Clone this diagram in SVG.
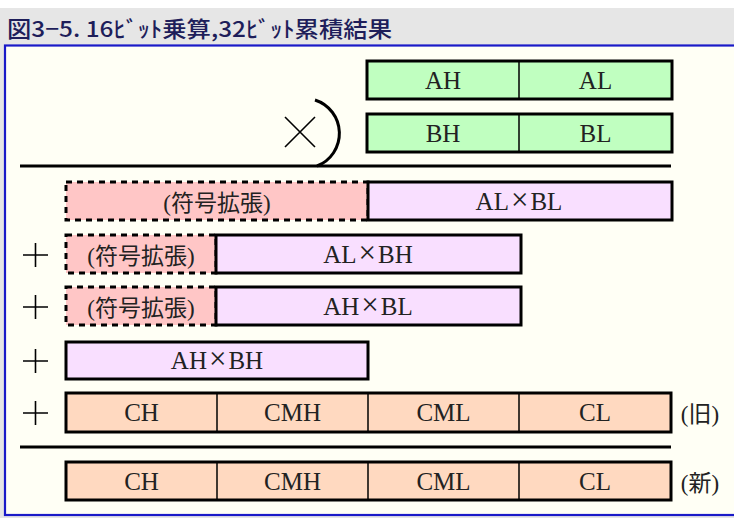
<svg xmlns="http://www.w3.org/2000/svg" width="734" height="518" viewBox="0 0 734 518">
<style>
.box{stroke:#000;stroke-width:3}
.g{fill:#c0ffc0}
.p{fill:#f9dfff}
.o{fill:#ffd9c0}
.d{fill:#ffc6c6;stroke:#000;stroke-width:3;stroke-dasharray:6 5}
.div{stroke:#000;stroke-width:1.5}
.rule{stroke:#000;stroke-width:3;fill:none}
.thin{stroke:#000;stroke-width:1.6;fill:none}
.t{font-family:"Liberation Serif","Noto Sans CJK JP",serif;font-size:25px;fill:#222;text-anchor:middle}
.x{font-size:31px}
.j{font-family:"Liberation Serif","Noto Sans CJK JP",serif;font-size:23px;fill:#222;text-anchor:middle}
</style>
<rect x="0" y="0" width="734" height="518" fill="#ffffff"/>
<rect x="0" y="8" width="734" height="510" fill="#e6e6e6"/>
<text x="7" y="37" font-family="'Noto Sans CJK JP',sans-serif" font-size="22" font-weight="500" fill="#1e1e5a" textLength="385" lengthAdjust="spacingAndGlyphs">図3−5. 16ﾋﾞｯﾄ乗算,32ﾋﾞｯﾄ累積結果</text>
<rect x="5" y="45.5" width="740" height="469.5" fill="#fffff5" stroke="#1a1ac8" stroke-width="2.2"/>

<g id="rules">
<line class="rule" x1="20" y1="166" x2="671" y2="166"/>
<line class="rule" x1="20" y1="447" x2="671" y2="447"/>
<path class="rule" d="M315,100 A35,35 0 0 1 317,166" stroke-width="2.5"/>
<path class="thin" d="M285,117 L315,147 M315,117 L285,147"/>
<path class="thin" d="M23,255 H48 M35.5,243 V267"/>
<path class="thin" d="M23,307 H48 M35.5,295 V319"/>
<path class="thin" d="M23,361 H48 M35.5,349 V373"/>
<path class="thin" d="M23,413 H48 M35.5,401 V425"/>
</g>

<g id="A">
<rect class="box g" x="367" y="61" width="305" height="38"/>
<line class="div" x1="519" y1="61" x2="519" y2="99"/>
<text class="t" x="443" y="89">AH</text>
<text class="t" x="595.5" y="89">AL</text>
</g>
<g id="B">
<rect class="box g" x="367" y="114" width="305" height="38"/>
<line class="div" x1="519" y1="114" x2="519" y2="152"/>
<text class="t" x="443" y="142">BH</text>
<text class="t" x="595.5" y="142">BL</text>
</g>

<g id="row1">
<rect class="d" x="66" y="182" width="302" height="38"/>
<rect class="box p" x="368" y="182" width="304" height="38"/>
<text class="j" x="217" y="211">(符号拡張)</text>
<text class="t" x="519" y="210">AL<tspan class="x" dx="2">×</tspan><tspan dx="2">BL</tspan></text>
</g>
<g id="row2">
<rect class="d" x="66" y="235" width="150" height="38"/>
<rect class="box p" x="216" y="235" width="305" height="38"/>
<text class="j" x="141" y="264">(符号拡張)</text>
<text class="t" x="368" y="263">AL<tspan class="x" dx="2">×</tspan><tspan dx="2">BH</tspan></text>
</g>
<g id="row3">
<rect class="d" x="66" y="287" width="150" height="38"/>
<rect class="box p" x="216" y="287" width="305" height="38"/>
<text class="j" x="141" y="316">(符号拡張)</text>
<text class="t" x="368" y="315">AH<tspan class="x" dx="2">×</tspan><tspan dx="2">BL</tspan></text>
</g>
<g id="row4">
<rect class="box p" x="66" y="342" width="302" height="37"/>
<text class="t" x="217" y="369">AH<tspan class="x" dx="2">×</tspan><tspan dx="2">BH</tspan></text>
</g>
<g id="oldC">
<rect class="box o" x="66" y="393" width="605" height="39"/>
<line class="div" x1="217" y1="393" x2="217" y2="432"/>
<line class="div" x1="368" y1="393" x2="368" y2="432"/>
<line class="div" x1="519" y1="393" x2="519" y2="432"/>
<text class="t" x="141.5" y="421">CH</text>
<text class="t" x="292.5" y="421">CMH</text>
<text class="t" x="443.5" y="421">CML</text>
<text class="t" x="595" y="421">CL</text>
<text class="j" x="700" y="422">(旧)</text>
</g>
<g id="newC">
<rect class="box o" x="66" y="462" width="605" height="38"/>
<line class="div" x1="217" y1="462" x2="217" y2="500"/>
<line class="div" x1="368" y1="462" x2="368" y2="500"/>
<line class="div" x1="519" y1="462" x2="519" y2="500"/>
<text class="t" x="141.5" y="490">CH</text>
<text class="t" x="292.5" y="490">CMH</text>
<text class="t" x="443.5" y="490">CML</text>
<text class="t" x="595" y="490">CL</text>
<text class="j" x="700" y="491">(新)</text>
</g>
</svg>
